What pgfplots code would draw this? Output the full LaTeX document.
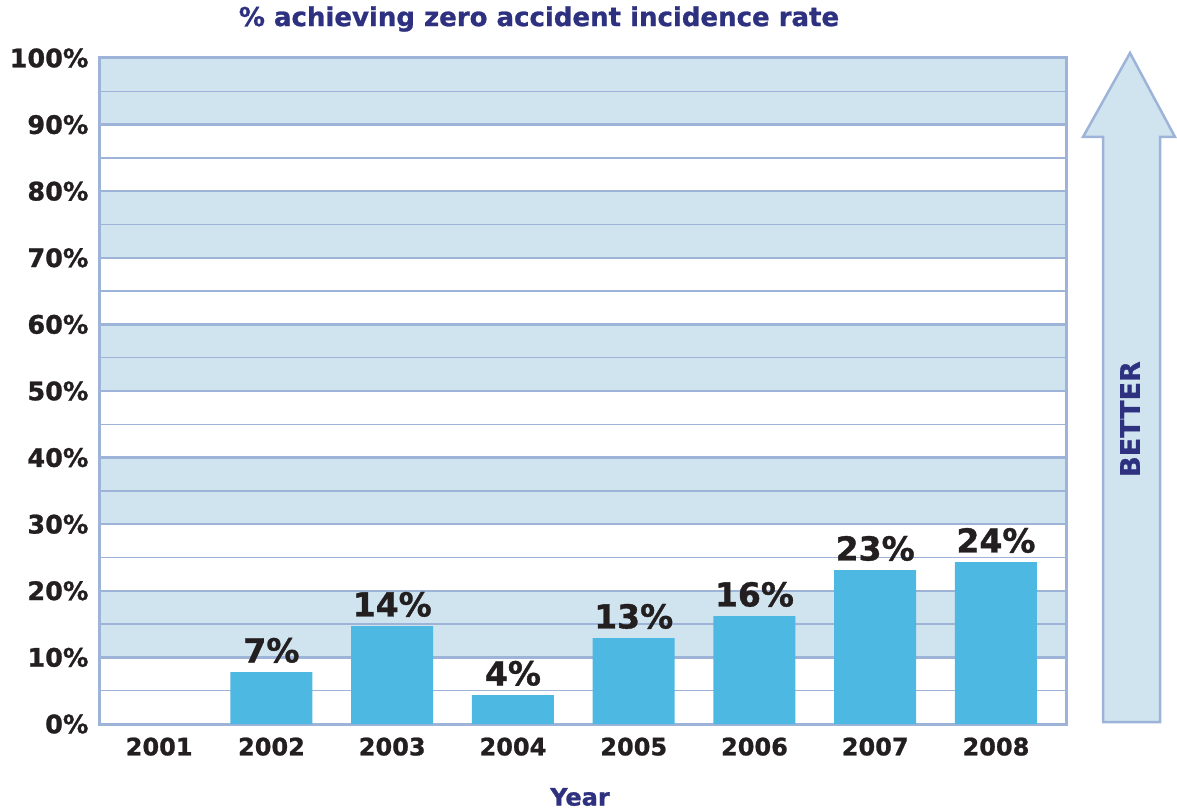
\documentclass[border=0pt]{standalone}
\usepackage{pgfplots}
\pgfplotsset{compat=1.18}
\usepackage{fontspec}
\setmainfont{DejaVu Sans}[BoldFeatures={FakeBold=1}]
\definecolor{band}{HTML}{CFE4EF}
\definecolor{gridc}{HTML}{9DB4D8}
\definecolor{barc}{HTML}{4DB8E2}
\definecolor{navy}{HTML}{2E3180}
\definecolor{txt}{HTML}{231F20}
\begin{document}
\begin{tikzpicture}[x=1pt,y=1pt]
\begin{axis}[
 at={(0,0)}, anchor=south west,
 scale only axis, width=966pt, height=666pt,
 set layers,
 ybar, bar width=82pt,
 xmin=2000.58, xmax=2008.58, ymin=0, ymax=100,
 xtick={2001.07,2002,2003,2004,2005,2006,2007,2008},
 xticklabels={2001,2002,2003,2004,2005,2006,2007,2008},
 ytick={0,10,20,30,40,50,60,70,80,90,100},
 yticklabels={0\%,10\%,20\%,30\%,40\%,50\%,60\%,70\%,80\%,90\%,100\%},
 minor ytick={5,15,25,35,45,55,65,75,85,95},
 ymajorgrids, yminorgrids,
 major grid style={gridc, line width=2.5pt},
 minor grid style={gridc, line width=1.5pt},
 axis line style={gridc, line width=3pt},
 tick style={draw=none},
 major tick length=0pt, minor tick length=0pt,
 tick label style={font=\bfseries\fontsize{24}{28}\selectfont, text=txt},
 yticklabel style={font=\bfseries\fontsize{25.5}{30}\selectfont, xshift=-8pt},
 xticklabel style={yshift=-10pt},
 nodes near coords,
 point meta=explicit symbolic,
 nodes near coords style={font=\bfseries\fontsize{33}{38}\selectfont, text=txt, anchor=south, inner sep=4pt, yshift=5pt},
]
\begin{pgfonlayer}{axis background}
\fill[band] (axis cs:2000.58,10) rectangle (axis cs:2008.58,20);
\fill[band] (axis cs:2000.58,30) rectangle (axis cs:2008.58,40);
\fill[band] (axis cs:2000.58,50) rectangle (axis cs:2008.58,60);
\fill[band] (axis cs:2000.58,70) rectangle (axis cs:2008.58,80);
\fill[band] (axis cs:2000.58,90) rectangle (axis cs:2008.58,100);
\end{pgfonlayer}
\addplot[fill=barc, draw=none] coordinates {
(2002,7.8) [7\%]
(2003,14.7) [14\%]
(2004,4.35) [4\%]
(2005,12.9) [13\%]
(2006,16.2) [16\%]
(2007,23.1) [23\%]
(2008,24.3) [24\%]
};
\end{axis}
\node[font=\bfseries\fontsize{26}{30}\selectfont, text=navy] at (439,705) {\% achieving zero accident incidence rate};
\node[font=\bfseries\fontsize{24}{28}\selectfont, text=navy] at (480,-73) {Year};
\draw[gridc, fill=band, line width=2.5pt, line join=miter] (1003,2) -- (1003,587) -- (983,587) -- (1030,671) -- (1075,587) -- (1060,587) -- (1060,2) -- cycle;
\node[font=\bfseries\fontsize{27}{31}\selectfont, text=navy, rotate=90] at (1030,305) {BETTER};
\path (-100,-87) rectangle (1077,724);
\end{tikzpicture}
\end{document}
